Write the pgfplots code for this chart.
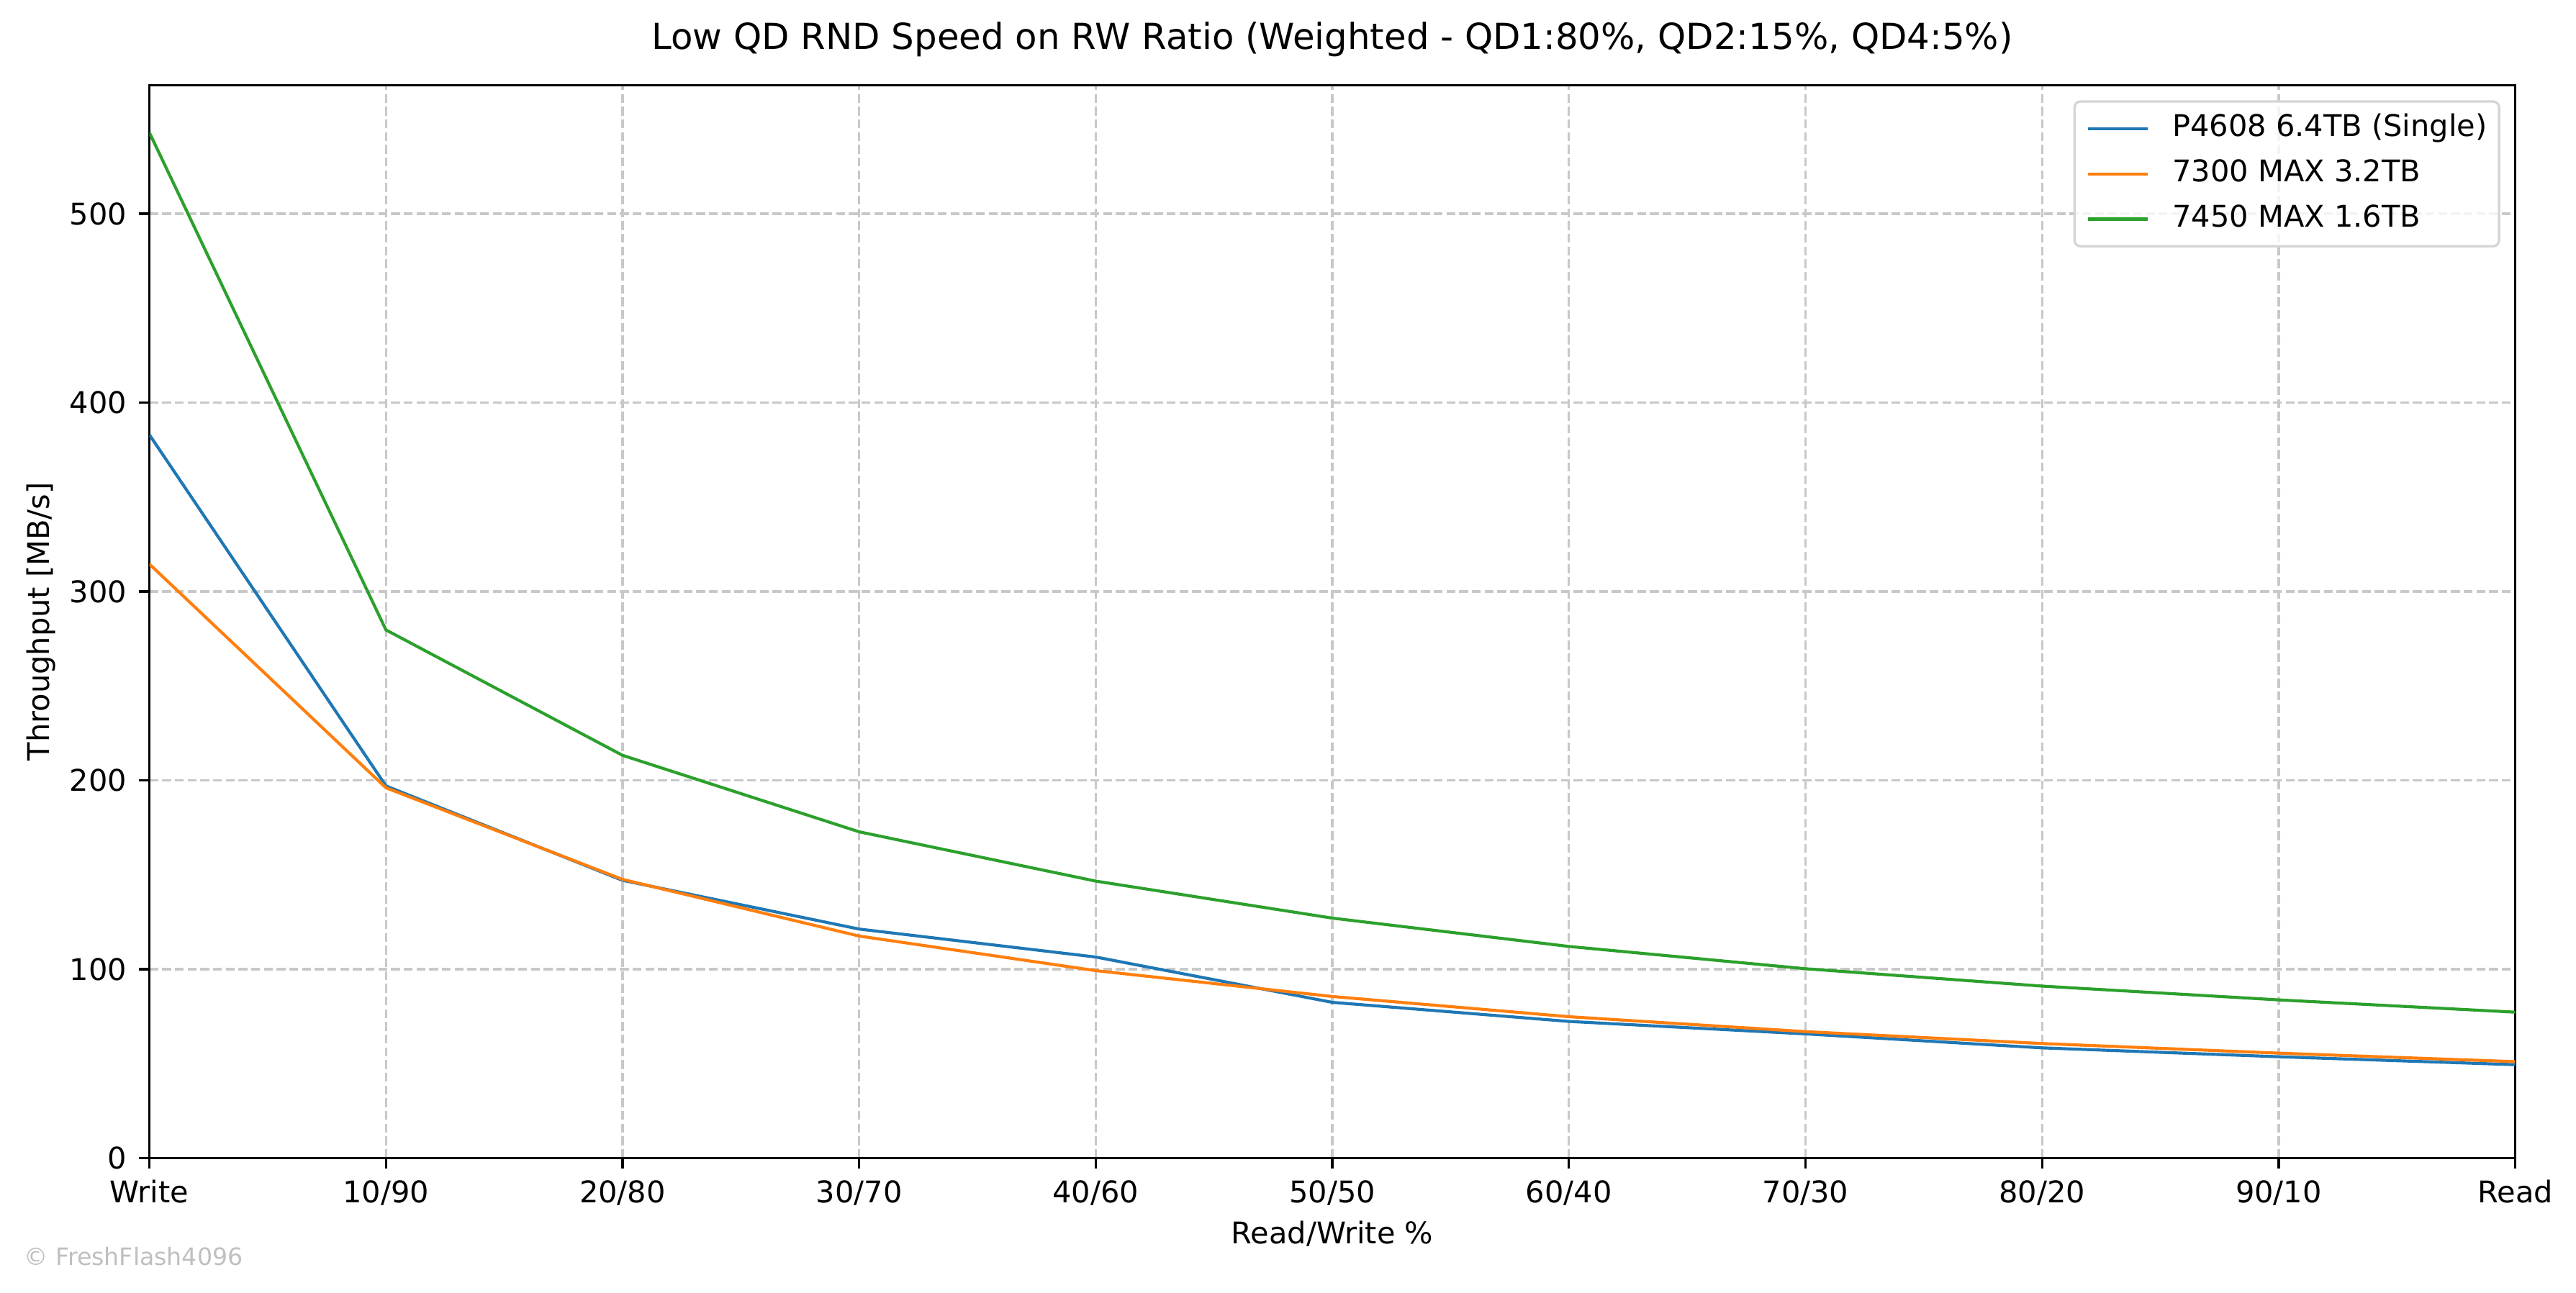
\documentclass[border=0pt]{standalone}
\usepackage{fontspec}
\setmainfont{DejaVu Sans}
\usepackage{pgfplots}
\pgfplotsset{compat=1.18}
\definecolor{c1}{HTML}{1F77B4}
\definecolor{c2}{HTML}{FF7F0E}
\definecolor{c3}{HTML}{2CA02C}
\definecolor{gridc}{HTML}{C8C8C8}
\definecolor{legc}{HTML}{D5D5D5}
\definecolor{wmc}{HTML}{BFBFBF}
\begin{document}
\begin{tikzpicture}
\path[use as bounding box] (0,0) rectangle (858.96bp,431.04bp);
\begin{axis}[
  at={(49.8bp,44.8bp)}, anchor=south west, scale only axis,
  width=788.9bp, height=357.8bp,
  xmin=0, xmax=10, ymin=0, ymax=568,
  xtick={0,1,2,3,4,5,6,7,8,9,10},
  xticklabels={Write,10/90,20/80,30/70,40/60,50/50,60/40,70/30,80/20,90/10,Read},
  ytick={0,100,200,300,400,500},
  /pgf/number format/assume math mode=true,
  tick pos=left, tick align=outside, major tick length=3.5bp,
  tick style={line width=0.8bp, black},
  axis line style={line width=0.8bp},
  grid=major,
  major grid style={gridc, line width=0.8bp, dash pattern=on 2.96bp off 1.28bp},
  tick label style={font=\fontsize{10}{12}\selectfont},
  xticklabel style={anchor=base, inner sep=0pt, yshift=-11.5bp},
  yticklabel style={anchor=base east, inner sep=0pt, xshift=-3.9bp, yshift=-3.65bp},
  label style={font=\fontsize{10}{12}\selectfont},
  xlabel={Read/Write \%},
  xlabel style={at={(axis description cs:0.5,-0.0802)}, anchor=base, inner sep=0pt},
  ylabel={Throughput [MB/s]},
  ylabel style={at={(axis description cs:-0.0422,0.5)}, anchor=base, inner sep=0pt},
  title={Low QD RND Speed on RW Ratio (Weighted - QD1:80\%, QD2:15\%, QD4:5\%)},
  title style={at={(axis description cs:0.5,1.0338)}, anchor=base, inner sep=0pt, yshift=-6pt, font=\fontsize{12}{14}\selectfont},
  legend cell align=left,
  legend style={at={(axis description cs:1,1)}, anchor=north east,
    xshift=-5bp, yshift=-5bp,
    draw=legc, line width=0.8bp, rounded corners=2bp, fill=white, fill opacity=0.8, text opacity=1,
    inner xsep=4bp, inner ysep=1.5bp,
    font=\fontsize{10}{12}\selectfont,
    nodes={inner xsep=0pt, inner ysep=2.5bp, text height=7.6bp, text depth=2.5bp, anchor=west},
    /tikz/every odd column/.append style={column sep=7.7bp}},
  legend image code/.code={\draw[#1] (0bp,0bp) -- (20bp,0bp);},
  every axis plot/.append style={line width=1bp, no markers},
]
\addplot[c1] coordinates {(0,383) (1,197) (2,147) (3,121.2) (4,106.4) (5,82.4) (6,72.3) (7,65.7) (8,58.3) (9,53.6) (10,49.4)};
\addlegendentry{P4608 6.4TB (Single)}
\addplot[c2] coordinates {(0,314.5) (1,196) (2,147.5) (3,117.5) (4,99.2) (5,85.5) (6,74.8) (7,66.9) (8,60.6) (9,55.5) (10,51.0)};
\addlegendentry{7300 MAX 3.2TB}
\addplot[c3] coordinates {(0,543) (1,279.6) (2,213.2) (3,172.7) (4,146.6) (5,127.0) (6,112.0) (7,100.2) (8,91.0) (9,83.7) (10,77.2)};
\addlegendentry{7450 MAX 1.6TB}
\end{axis}
\node[anchor=base west, inner sep=0pt, text=wmc, font=\fontsize{8}{10}\selectfont] at (7.9bp,9.1bp) {© FreshFlash4096};
\end{tikzpicture}
\end{document}
